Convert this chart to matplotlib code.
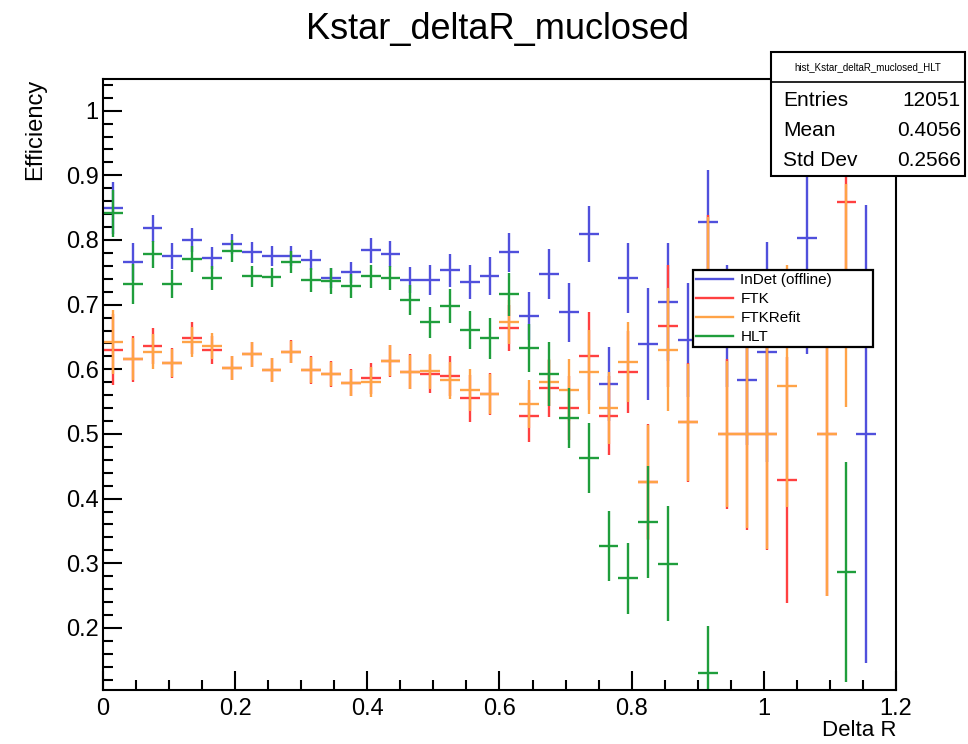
import numpy as np
import matplotlib.pyplot as plt
from matplotlib.lines import Line2D
from matplotlib.patches import Rectangle

plt.rcParams['font.family'] = ['Liberation Sans', 'DejaVu Sans']

# 40 bins of 0.03 in Delta R, centres
delta_r = np.arange(39) * 0.03 + 0.015
half_bin = 0.015

nan = np.nan

indet_eff = [0.849, 0.766, 0.818, 0.775, 0.800, 0.772, 0.794, 0.781, 0.775, 0.775,
             0.769, 0.741, 0.750, 0.784, 0.778, 0.738, 0.738, 0.753, 0.735, 0.744,
             0.781, 0.682, 0.747, 0.688, 0.809, 0.577, 0.741, 0.639, 0.704, 0.645,
             0.828, 0.667, 0.583, 0.627, nan, 0.803, nan, nan, 0.500]
indet_err = [0.040, 0.030, 0.021, 0.020, 0.018, 0.017, 0.016, 0.016, 0.015, 0.015,
             0.016, 0.016, 0.016, 0.019, 0.020, 0.020, 0.023, 0.025, 0.026, 0.029,
             0.030, 0.037, 0.039, 0.045, 0.043, 0.057, 0.054, 0.087, 0.091, 0.088,
             0.081, 0.094, 0.100, 0.170, nan, 0.180, nan, nan, 0.354]

ftk_eff = [0.630, 0.616, 0.636, 0.610, 0.648, 0.630, 0.602, 0.623, 0.599, 0.627,
           0.599, 0.593, 0.579, 0.586, 0.613, 0.596, 0.593, 0.589, 0.555, 0.562,
           0.664, 0.528, 0.571, 0.540, 0.620, 0.528, 0.596, 0.426, 0.667, 0.518,
           0.750, 0.500, 0.500, 0.500, 0.429, nan, 0.500, 0.859, nan]
ftk_err = [0.055, 0.035, 0.028, 0.023, 0.025, 0.022, 0.019, 0.020, 0.019, 0.018,
           0.021, 0.020, 0.021, 0.024, 0.025, 0.027, 0.029, 0.031, 0.036, 0.033,
           0.036, 0.040, 0.044, 0.050, 0.068, 0.061, 0.064, 0.090, 0.094, 0.092,
           0.088, 0.116, 0.148, 0.180, 0.190, nan, 0.250, 0.120, nan]

refit_eff = [0.642, 0.616, 0.627, 0.610, 0.642, 0.636, 0.602, 0.623, 0.599, 0.627,
             0.599, 0.593, 0.579, 0.580, 0.613, 0.596, 0.597, 0.583, 0.568, 0.562,
             0.673, 0.546, 0.580, 0.568, 0.596, 0.540, 0.611, 0.426, 0.630, 0.518,
             0.750, 0.500, 0.500, 0.500, 0.574, nan, 0.500, 0.714, nan]
refit_err = [0.050, 0.033, 0.027, 0.022, 0.023, 0.020, 0.018, 0.019, 0.018, 0.017,
             0.020, 0.019, 0.020, 0.023, 0.024, 0.026, 0.027, 0.029, 0.033, 0.031,
             0.034, 0.037, 0.036, 0.048, 0.065, 0.056, 0.062, 0.088, 0.095, 0.090,
             0.085, 0.113, 0.145, 0.178, 0.187, nan, 0.250, 0.173, nan]

hlt_eff = [0.841, 0.732, 0.778, 0.732, 0.770, 0.741, 0.783, 0.744, 0.742, 0.766,
           0.738, 0.736, 0.729, 0.744, 0.741, 0.707, 0.673, 0.698, 0.661, 0.648,
           0.716, 0.633, 0.593, 0.525, 0.463, 0.327, 0.277, 0.364, 0.299, nan,
           0.130, nan, nan, nan, nan, nan, nan, 0.287, nan]
hlt_err = [0.036, 0.031, 0.021, 0.022, 0.020, 0.019, 0.017, 0.016, 0.015, 0.017,
           0.018, 0.020, 0.019, 0.018, 0.019, 0.023, 0.024, 0.026, 0.029, 0.032,
           0.033, 0.037, 0.050, 0.046, 0.054, 0.054, 0.055, 0.087, 0.089, nan,
           0.073, nan, nan, nan, nan, nan, nan, 0.170, nan]

series = [
    ('InDet (offline)', indet_eff, indet_err, '#5050dc'),
    ('FTK', ftk_eff, ftk_err, '#ff4040'),
    ('FTKRefit', refit_eff, refit_err, '#ffa347'),
    ('HLT', hlt_eff, hlt_err, '#1f9e3c'),
]

W, H = 968, 744


def fx(x):
    return x / W


def fy(y):
    return 1 - y / H


fig = plt.figure(figsize=(W / 100, H / 100), dpi=100)
ax = fig.add_axes([fx(103), fy(690), fx(896) - fx(103), fy(79) - fy(690)])

for name, eff, err, col in series:
    ax.errorbar(delta_r, eff, xerr=half_bin, yerr=err, fmt='none',
                ecolor=col, elinewidth=1.7, capsize=0)

ax.set_xlim(0, 1.2)
ax.set_ylim(0.104, 1.049)
ax.set_xticks([0, 0.2, 0.4, 0.6, 0.8, 1.0, 1.2])
ax.set_xticklabels(['0', '0.2', '0.4', '0.6', '0.8', '1', '1.2'])
ax.set_xticks(np.arange(0, 1.21, 0.05), minor=True)
ax.set_yticks([0.2, 0.3, 0.4, 0.5, 0.6, 0.7, 0.8, 0.9, 1.0])
ax.set_yticklabels(['0.2', '0.3', '0.4', '0.5', '0.6', '0.7', '0.8', '0.9', '1'])
ax.set_yticks(np.arange(0.12, 1.05, 0.02), minor=True)
ax.tick_params(which='both', direction='in', top=False, right=False,
               labelsize=17, width=1.5)
ax.tick_params(which='major', length=14)
ax.tick_params(which='minor', length=7)
ax.tick_params(axis='x', which='major', pad=6)
ax.tick_params(axis='y', which='major', pad=3)
for sp in ax.spines.values():
    sp.set_linewidth(1.5)

ax.set_xlabel('Delta R', loc='right', fontsize=16, labelpad=0)
ax.set_ylabel('Efficiency', loc='top', fontsize=17, labelpad=14)

fig.text(497 / W, fy(30), 'Kstar_deltaR_muclosed', ha='center', va='center',
         fontsize=26)

# legend box
handles = [Line2D([], [], color=c, lw=1.7) for _, _, _, c in series]
leg = ax.legend(handles, [s[0] for s in series], loc='upper left', mode='expand',
                bbox_to_anchor=(fx(693), fy(348), fx(873) - fx(693), fy(270) - fy(348)),
                bbox_transform=fig.transFigure,
                fontsize=11, frameon=True, fancybox=False, framealpha=1,
                edgecolor='black', handlelength=2.4, borderpad=0.2,
                labelspacing=0.33, handletextpad=0.5, borderaxespad=0)
leg.get_frame().set_linewidth(1.6)
leg.set_zorder(20)

# stats box
fig.add_artist(Rectangle((fx(771), fy(176)), fx(965) - fx(771), fy(52) - fy(176),
                         transform=fig.transFigure, facecolor='white',
                         edgecolor='black', lw=1.5, zorder=10))
fig.add_artist(Line2D([fx(771), fx(965)], [fy(82), fy(82)],
                      transform=fig.transFigure, color='black', lw=1.2, zorder=11))
fig.text(fx(868), fy(67), 'hist_Kstar_deltaR_muclosed_HLT', ha='center', va='center',
         fontsize=7, zorder=12)
stats = [('Entries', '12051'), ('Mean', '0.4056'), ('Std Dev', '0.2566')]
for i, (k, v) in enumerate(stats):
    yy = fy(100 + i * 30.5)
    fig.text(fx(783), yy, k, ha='left', va='center', fontsize=15, zorder=12)
    fig.text(fx(961), yy, v, ha='right', va='center', fontsize=15, zorder=12)

fig.savefig('out.png', dpi=100)
